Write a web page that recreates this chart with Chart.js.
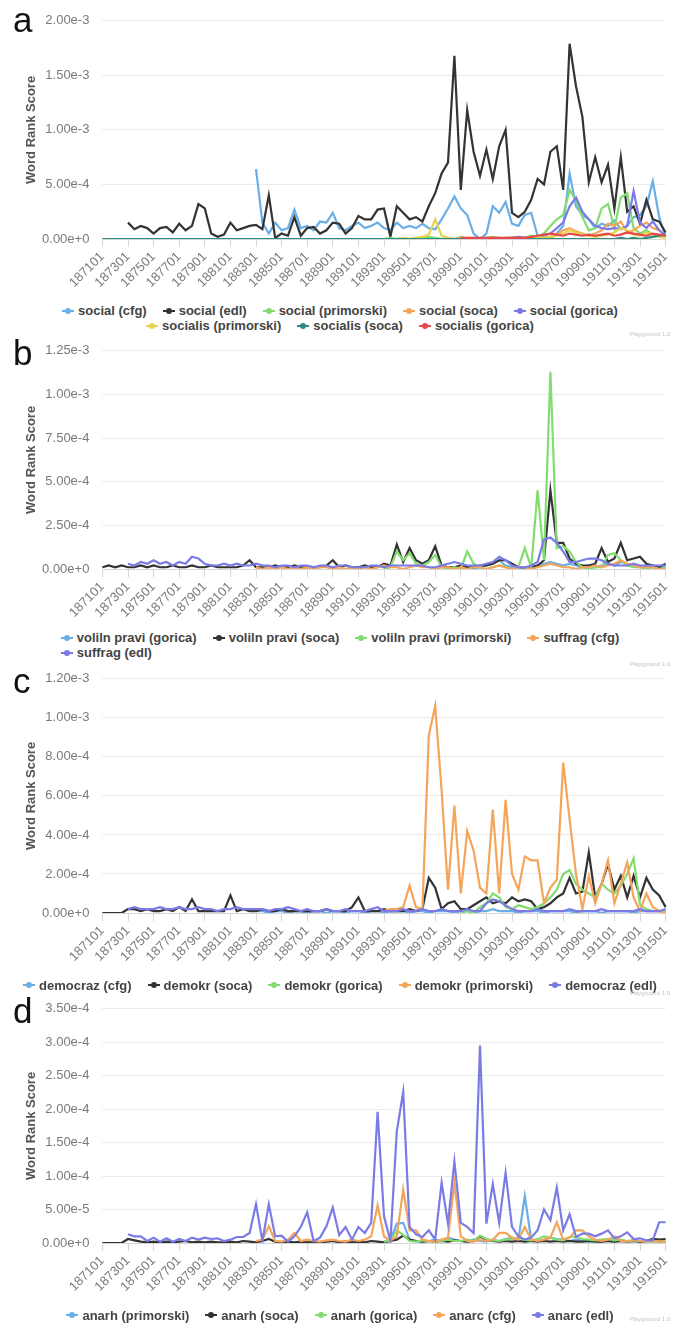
<!DOCTYPE html>
<html>
<head>
<meta charset="utf-8">
<script src="https://cdn.jsdelivr.net/npm/chart.js@4.4.0/dist/chart.umd.min.js"></script>
<style>
  body { margin: 0; background: #fff; font-family: "Liberation Sans", Arial, sans-serif; }
  #page { position: relative; width: 680px; height: 1325px; overflow: hidden; }
  .panel { position: absolute; left: 0; }
  .letter { position: absolute; left: 13px; font-size: 35px; line-height: 34px; color: #111; }
  .legend { position: absolute; left: 0; width: 680px; text-align: center; font-size: 13px; font-weight: bold; color: #444; }
  .wrap { display: inline-block; }
  .row { display: flex; justify-content: center; height: 15px; line-height: 15px; align-items: center; }
  .wrap.start .row { justify-content: flex-start; }
  .item { display: inline-flex; align-items: center; margin: 0 8px; white-space: nowrap; }
  .mark { position: relative; display: inline-block; width: 12px; height: 2px; margin-right: 4px; }
  .mark::after { content: ''; position: absolute; left: 3px; top: -2px; width: 6px; height: 6px; border-radius: 50%; background: inherit; }
  .credit { position: absolute; right: 10px; font-size: 6px; color: #c4c4c4; }
</style>
</head>
<body>
<div id="page"></div>
<script>
const _ = null;
const UNIT = 1e-5; // all series below are written in units of 1e-5

// half-year periods 187101, 187107 ... 191501
const periods = [];
for (let y = 1871; y <= 1915; y++) {
    periods.push(y + '01');
    if (y < 1915) periods.push(y + '07');
}

// ---- a: social ----
const aSocialCfg = [
    _,_,_,_,_,_,_,_,
    _,_,_,_,_,_,_,_,
    _,_,_,_,_,_,_,_,
    64,15,5,15,8,10,27,10,
    12,8,16,15,24,10,8,12,
    15,10,12,15,10,8,15,10,
    12,10,14,10,9,18,28,39,
    28,22,5,0,5,30,24,34,
    14,12,22,24,3,0,0,5,
    12,60,30,22,18,10,14,12,
    17,9,12,20,22,30,53,20,
    2];
const aSocialEdl = [
    _,_,_,_,15,9,12,10,
    5,10,11,6,14,8,12,32,
    28,5,2,4,15,8,10,12,
    13,9,40,1,5,3,20,3,
    10,11,5,8,15,14,5,10,
    21,18,18,27,28,2,30,24,
    18,20,16,30,42,60,70,168,
    45,118,80,58,82,55,85,100,
    24,20,25,36,55,50,80,85,
    45,179,140,112,52,75,52,68,
    28,75,25,30,14,36,18,16,
    6];
const aSocialPrimorski = [
    _,_,_,_,_,_,_,_,
    _,_,_,_,_,_,_,_,
    _,_,_,_,_,_,_,_,
    _,_,_,_,_,_,_,_,
    _,_,_,_,_,_,_,_,
    _,_,_,_,0,1,0,1,
    0,1,0,2,1,0,1,0,
    2,0,1,0,1,2,1,0,
    1,2,1,3,2,5,12,18,
    22,45,35,20,8,10,28,32,
    10,38,42,10,5,8,4,3,
    2];
const aSocialSoca = [
    0,0,0,0,0,0,0,0,
    0,0,0,0,0,0,0,0,
    0,0,0,0,0,0,0,0,
    0,0,0,0,0,0,0,0,
    0,0,0,0,0,0,0,0,
    0,0,0,0,0,0,0,0,
    0,0,0,0,0,0,0,0,
    1,0,1,0,1,1,0,1,
    1,0,1,1,0,1,2,4,
    8,10,7,5,3,5,8,14,
    12,16,6,8,12,15,10,8,
    3];
const aSocialGorica = [
    _,_,_,_,_,_,_,_,
    _,_,_,_,_,_,_,_,
    _,_,_,_,_,_,_,_,
    _,_,_,_,_,_,_,_,
    _,_,_,_,_,_,_,_,
    _,_,_,_,_,_,_,_,
    _,_,_,_,_,_,_,_,
    0,1,0,1,0,1,0,1,
    1,2,1,1,2,3,5,10,
    15,30,38,25,18,12,10,9,
    10,9,12,44,15,10,16,8,
    3];
const aSocialisPrimorski = [
    _,_,_,_,_,_,_,_,
    _,_,_,_,_,_,_,_,
    _,_,_,_,_,_,_,_,
    _,_,_,_,_,_,_,_,
    _,_,_,_,_,_,_,_,
    _,_,_,_,0,0,0,1,
    0,1,2,4,18,3,1,0,
    0,1,0,0,1,0,1,0,
    0,1,0,1,2,1,2,3,
    5,8,6,4,3,2,3,4,
    6,10,8,4,3,6,4,2,
    1];
const aSocialisSoca = [
    0,0,0,0,0,0,0,0,
    0,0,0,0,0,0,0,0,
    0,0,0,0,0,0,0,0,
    0,0,0,0,0,0,0,0,
    0,0,0,0,0,0,0,0,
    0,0,0,0,0,0,0,0,
    0,0,0,0,0,0,0,0,
    0,0,0,0,0,0,0,0,
    0,0,0,0,0,0,0,0,
    0,0,0,0,0,0,0,0,
    0,1,0,1,0,1,2,3,
    4];
const aSocialisGorica = [
    _,_,_,_,_,_,_,_,
    _,_,_,_,_,_,_,_,
    _,_,_,_,_,_,_,_,
    _,_,_,_,_,_,_,_,
    _,_,_,_,_,_,_,_,
    _,_,_,_,_,_,_,_,
    _,_,_,_,_,_,_,_,
    1,1,1,1,1,1,1,1,
    1,1,1,2,3,4,5,4,
    3,5,4,3,4,3,4,5,
    3,4,6,5,4,3,5,4,
    3];

// ---- b: voliln pravi / suffrag ----
const bVolilnGorica = [
    _,_,_,_,_,_,_,_,
    _,_,_,_,_,_,_,_,
    _,_,_,_,_,_,_,_,
    _,_,_,_,_,_,_,_,
    _,_,_,_,_,_,_,_,
    _,_,_,_,_,_,_,_,
    _,_,_,_,_,_,_,_,
    0,1,0,1,2,3,5,2,
    1,1,0,1,2,3,4,3,
    2,3,2,1,2,1,2,3,
    2,4,3,2,1,2,1,1,
    1];
const bVolilnSoca = [
    1,2,1,2,1,1,2,1,
    2,1,1,2,1,1,2,1,
    1,2,1,1,1,1,2,5,
    1,1,1,2,1,1,2,1,
    1,1,1,2,5,1,2,1,
    1,2,1,1,3,2,14,4,
    12,5,3,5,13,2,1,1,
    2,1,1,2,2,3,5,5,
    3,1,1,1,2,5,45,15,
    15,6,3,2,2,3,12,4,
    6,15,5,6,7,3,2,1,
    3];
const bVolilnPrimorski = [
    _,_,_,_,_,_,_,_,
    _,_,_,_,_,_,_,_,
    _,_,_,_,_,_,_,_,
    _,_,_,_,_,_,_,_,
    _,_,_,_,_,_,_,_,
    _,_,_,_,0,1,10,5,
    9,3,2,4,8,1,0,1,
    0,10,3,1,0,1,2,1,
    0,1,12,1,45,5,113,12,
    13,10,4,1,0,1,1,8,
    9,5,2,1,1,0,1,0,
    1];
const bSuffragCfg = [
    _,_,_,_,_,_,_,_,
    _,_,_,_,_,_,_,_,
    _,_,_,_,_,_,_,_,
    1,0,1,0,1,0,1,0,
    1,0,1,1,0,1,0,1,
    0,1,0,1,2,1,1,0,
    1,2,1,1,0,1,1,0,
    1,0,1,1,0,1,2,1,
    0,1,1,0,1,2,3,2,
    1,1,0,1,1,2,1,2,
    3,5,3,2,1,1,1,0,
    0];
const bSuffragEdl = [
    _,_,_,_,3,2,4,3,
    5,3,4,2,4,3,7,6,
    3,2,2,3,2,3,2,2,
    3,2,2,1,2,2,1,2,
    2,1,2,2,1,2,2,1,
    1,1,2,2,1,2,2,2,
    2,2,2,1,1,2,3,4,
    3,2,2,2,3,4,7,5,
    2,1,1,2,4,17,18,15,
    10,4,4,5,6,6,5,3,
    2,2,2,3,2,2,2,2,
    2];

// ---- c: democraz / demokr ----
const cDemocrazCfg = [
    _,_,_,_,_,_,_,_,
    _,_,_,_,_,_,_,_,
    _,_,_,_,_,_,_,_,
    1,1,0,1,1,0,1,1,
    0,1,1,0,1,1,0,1,
    1,0,1,1,0,1,1,1,
    0,1,1,0,1,1,1,0,
    1,1,0,1,1,2,1,1,
    1,0,1,1,1,0,1,1,
    1,1,0,1,1,1,0,1,
    1,1,1,0,1,1,1,1,
    1];
const cDemokrSoca = [
    0,0,0,0,2,2,1,2,
    1,1,2,1,3,1,7,1,
    1,1,1,1,9,1,2,1,
    1,2,1,1,2,1,1,1,
    1,1,1,2,1,1,1,3,
    8,1,1,1,2,1,1,1,
    2,1,2,18,13,2,5,6,
    2,2,4,6,8,5,6,5,
    8,6,7,6,2,3,5,8,
    10,18,10,11,31,8,15,25,
    12,19,8,19,8,18,12,9,
    3];
const cDemokrGorica = [
    _,_,_,_,_,_,_,_,
    _,_,_,_,_,_,_,_,
    _,_,_,_,_,_,_,_,
    _,_,_,_,_,_,_,_,
    _,_,_,_,_,_,_,_,
    _,_,_,_,_,_,_,_,
    _,_,_,_,_,_,_,_,
    0,1,0,3,5,10,8,3,
    2,4,3,2,3,5,8,12,
    20,22,15,12,10,8,15,12,
    10,14,20,28,4,2,1,1,
    1];
const cDemokrPrimorski = [
    _,_,_,_,_,_,_,_,
    _,_,_,_,_,_,_,_,
    _,_,_,_,_,_,_,_,
    _,_,_,_,_,_,_,_,
    _,_,_,_,_,_,_,_,
    _,_,_,_,1,2,2,3,
    14,3,2,91,106,63,12,55,
    10,42,32,13,10,53,10,58,
    20,12,29,27,27,5,13,17,
    77,48,20,2,19,5,15,27,
    5,15,26,8,1,10,3,1,
    0];
const cDemocrazEdl = [
    _,_,_,_,2,3,2,2,
    2,3,2,2,3,2,2,3,
    2,2,1,2,2,3,2,2,
    2,2,1,2,2,3,2,1,
    2,1,1,2,1,1,2,1,
    1,1,2,3,1,1,1,2,
    1,1,2,1,1,2,1,1,
    1,2,1,1,5,7,6,4,
    2,1,1,1,2,1,1,1,
    1,2,1,1,1,1,2,1,
    1,1,1,1,2,1,1,1,
    2];

// ---- d: anarh / anarc ----
const dAnarhPrimorski = [
    _,_,_,_,_,_,_,_,
    _,_,_,_,_,_,_,_,
    _,_,_,_,_,_,_,_,
    _,_,_,_,_,_,_,_,
    _,_,_,_,_,_,_,_,
    _,_,_,_,0.2,0.5,2.9,3.0,
    0.5,0.3,0.2,0.3,0.5,0.3,0.8,0.5,
    0.3,0.2,0.5,0.3,0.2,0.5,0.3,0.6,
    0.8,0.5,7.0,0.5,0.3,0.5,0.8,0.6,
    0.5,0.3,0.5,0.3,0.2,0.3,0.2,0.3,
    0.2,0.3,0.2,0.3,0.2,0.2,0.3,0.2,
    0.2];
const dAnarhSoca = [
    0,0,0,0,0.6,0.4,0.2,0.1,
    0.2,0.1,0.2,0.1,0.2,0.3,0.1,0.2,
    0.1,0.2,0.1,0.1,0.2,0.1,0.3,0.2,
    0.1,0.3,0.6,0.2,0.1,0.2,0.1,0.2,
    0.1,0.2,0.1,0.2,0.3,0.1,0.2,0.1,
    0.2,0.1,0.3,0.2,0.1,0.3,0.5,1.1,
    0.5,0.3,0.2,0.3,0.2,0.3,0.2,0.4,
    0.3,0.2,0.3,1.0,0.5,0.3,0.2,0.3,
    0.2,0.3,0.2,0.3,0.2,0.3,0.2,0.3,
    0.2,0.3,0.2,0.2,0.3,0.2,0.2,0.3,
    0.2,0.3,0.2,0.3,0.2,0.3,0.6,0.5,
    0.6];
const dAnarhGorica = [
    _,_,_,_,_,_,_,_,
    _,_,_,_,_,_,_,_,
    _,_,_,_,_,_,_,_,
    _,_,_,_,_,_,_,_,
    _,_,_,_,_,_,_,_,
    _,_,_,_,0.2,0.4,1.9,1.2,
    0.3,0.2,0.4,0.3,0.2,0.3,0.5,0.3,
    0.3,0.5,0.3,1.1,0.6,0.4,0.3,0.5,
    0.6,0.8,0.5,0.4,0.6,1.0,0.8,0.5,
    0.4,0.9,0.9,0.6,0.5,0.4,0.5,0.6,
    0.4,0.5,0.3,0.4,0.3,0.3,0.2,0.2,
    0.2];
const dAnarcCfg = [
    _,_,_,_,_,_,_,_,
    _,_,_,_,_,_,_,_,
    _,_,_,_,_,_,_,_,
    0.3,0.5,2.5,0.3,0.2,0.5,1.5,0.3,
    0.5,0.3,0.2,0.4,0.5,0.3,0.2,0.5,
    0.3,0.5,1.0,5.6,1.0,0.3,1.0,8.0,
    1.9,1.9,0.5,0.3,0.2,0.5,0.8,9.0,
    1.0,0.3,0.2,0.5,0.3,0.5,1.5,1.5,
    0.8,0.5,2.4,0.5,0.3,0.5,0.8,3.1,
    0.5,0.8,1.9,1.9,1.0,0.5,0.3,0.5,
    1.0,0.3,0.2,0.5,0.3,0.2,0.3,0.2,
    0.2];
const dAnarcEdl = [
    _,_,_,_,1.3,1.0,1.0,0.3,
    0.8,0.2,0.7,0.2,0.6,0.3,0.8,0.5,
    0.8,0.6,0.7,0.3,0.5,0.9,0.9,1.5,
    5.8,0.3,5.8,1.0,1.1,0.2,1.0,2.4,
    4.6,0.3,0.8,2.5,5.3,1.2,2.4,0.5,
    2.4,1.5,3.0,19.6,4.0,0.3,16.7,22.6,
    2.4,1.3,0.9,1.9,0.5,9.0,2.9,12.2,
    3.0,2.4,1.5,29.5,2.9,8.8,3.0,10.5,
    2.4,1.0,0.5,0.8,1.9,5.0,3.4,8.3,
    1.9,4.3,0.9,1.4,1.4,1.0,1.4,1.9,
    0.7,1.0,1.6,0.6,0.7,0.4,0.4,3.1,
    3.1];

const COLORS = {
    blue: '#6aaee8', black: '#333333', green: '#82dc70', orange: '#f5a55a',
    purple: '#7b7be8', yellow: '#e5d54b', teal: '#2e8b80', red: '#e8484a'
};

Chart.defaults.font.family = "'Liberation Sans', Arial, sans-serif";

const panels = [
    {
        letter: 'a', top: 0, height: 300, plotH: 221, yMax: 2e-3, yStep: 5e-4,
        legendTop: 303, legendRows: [[0, 1, 2, 3, 4], [5, 6, 7]], legendStart: false, creditTop: 331,
        series: [
            { name: 'social (cfg)', color: COLORS.blue, values: aSocialCfg },
            { name: 'social (edl)', color: COLORS.black, values: aSocialEdl },
            { name: 'social (primorski)', color: COLORS.green, values: aSocialPrimorski },
            { name: 'social (soca)', color: COLORS.orange, values: aSocialSoca },
            { name: 'social (gorica)', color: COLORS.purple, values: aSocialGorica },
            { name: 'socialis (primorski)', color: COLORS.yellow, values: aSocialisPrimorski },
            { name: 'socialis (soca)', color: COLORS.teal, values: aSocialisSoca },
            { name: 'socialis (gorica)', color: COLORS.red, values: aSocialisGorica }
        ]
    },
    {
        letter: 'b', top: 330, height: 300, plotH: 221, yMax: 1.25e-3, yStep: 2.5e-4,
        legendTop: 630, legendRows: [[0, 1, 2, 3], [4]], legendStart: true, creditTop: 661,
        series: [
            { name: 'voliln pravi (gorica)', color: COLORS.blue, values: bVolilnGorica },
            { name: 'voliln pravi (soca)', color: COLORS.black, values: bVolilnSoca },
            { name: 'voliln pravi (primorski)', color: COLORS.green, values: bVolilnPrimorski },
            { name: 'suffrag (cfg)', color: COLORS.orange, values: bSuffragCfg },
            { name: 'suffrag (edl)', color: COLORS.purple, values: bSuffragEdl }
        ]
    },
    {
        letter: 'c', top: 658, height: 318, plotH: 237, yMax: 1.2e-3, yStep: 2e-4,
        legendTop: 974, legendRows: [[0, 1, 2, 3, 4]], legendStart: false, creditTop: 990,
        series: [
            { name: 'democraz (cfg)', color: COLORS.blue, values: cDemocrazCfg },
            { name: 'demokr (soca)', color: COLORS.black, values: cDemokrSoca },
            { name: 'demokr (gorica)', color: COLORS.green, values: cDemokrGorica },
            { name: 'demokr (primorski)', color: COLORS.orange, values: cDemokrPrimorski },
            { name: 'democraz (edl)', color: COLORS.purple, values: cDemocrazEdl }
        ]
    },
    {
        letter: 'd', top: 988, height: 318, plotH: 237, yMax: 3.5e-4, yStep: 5e-5,
        legendTop: 1304, legendRows: [[0, 1, 2, 3, 4]], legendStart: false, creditTop: 1316,
        series: [
            { name: 'anarh (primorski)', color: COLORS.blue, values: dAnarhPrimorski },
            { name: 'anarh (soca)', color: COLORS.black, values: dAnarhSoca },
            { name: 'anarh (gorica)', color: COLORS.green, values: dAnarhGorica },
            { name: 'anarc (cfg)', color: COLORS.orange, values: dAnarcCfg },
            { name: 'anarc (edl)', color: COLORS.purple, values: dAnarcEdl }
        ]
    }
];

const page = document.getElementById('page');

function buildChart(p) {
    const holder = document.createElement('div');
    holder.className = 'panel';
    holder.style.top = p.top + 'px';
    const canvas = document.createElement('canvas');
    canvas.width = 680;
    canvas.height = p.height;
    holder.appendChild(canvas);
    page.appendChild(holder);

    const xAxisH = p.height - 18 - p.plotH;

    new Chart(canvas.getContext('2d'), {
        type: 'line',
        data: {
            labels: periods,
            datasets: p.series.map((s, k) => ({
                label: s.name,
                data: s.values.map(v => v === null ? null : v * UNIT),
                borderColor: s.color,
                backgroundColor: s.color,
                borderWidth: 2.2,
                pointRadius: 0,
                tension: 0,
                order: -k
            }))
        },
        options: {
            responsive: false,
            animation: false,
            events: [],
            layout: { padding: { top: 18, right: 14.4, left: 0, bottom: 0 } },
            plugins: { legend: { display: false }, tooltip: { enabled: false } },
            scales: {
                x: {
                    grid: { drawOnChartArea: false, color: '#d6d6d6', tickLength: 8 },
                    border: { color: '#d6d6d6' },
                    ticks: {
                        autoSkip: false, minRotation: 45, maxRotation: 45, padding: 2,
                        color: '#7a7a7a', font: { size: 13 },
                        callback: (v, i) => (i % 4 === 0 ? periods[i] : null)
                    },
                    afterFit: s => { s.height = xAxisH; }
                },
                y: {
                    min: 0,
                    max: p.yMax,
                    grid: { color: '#ebebeb', drawTicks: false },
                    border: { display: false },
                    ticks: {
                        stepSize: p.yStep, padding: 13, color: '#7a7a7a', font: { size: 13 },
                        callback: v => Number(v).toExponential(2)
                    },
                    title: {
                        display: true, text: 'Word Rank Score', color: '#555',
                        font: { size: 13, weight: 'bold' }, padding: { top: 24, bottom: 0 }
                    },
                    afterFit: s => { s.width = 102.4; }
                }
            }
        }
    });
}

function buildLegend(p) {
    const box = document.createElement('div');
    box.className = 'legend';
    box.style.top = p.legendTop + 'px';
    const wrap = document.createElement('div');
    wrap.className = p.legendStart ? 'wrap start' : 'wrap';
    p.legendRows.forEach(row => {
        const r = document.createElement('div');
        r.className = 'row';
        row.forEach(k => {
            const s = p.series[k];
            const item = document.createElement('span');
            item.className = 'item';
            item.innerHTML = '<span class="mark" style="background:' + s.color + '"></span>' + s.name;
            r.appendChild(item);
        });
        wrap.appendChild(r);
    });
    box.appendChild(wrap);
    page.appendChild(box);
}

function buildLabels(p) {
    const letter = document.createElement('div');
    letter.className = 'letter';
    letter.style.top = (p.top + (p.letter === 'a' ? 3 : 6)) + 'px';
    letter.textContent = p.letter;
    page.appendChild(letter);

    const credit = document.createElement('div');
    credit.className = 'credit';
    credit.style.top = p.creditTop + 'px';
    credit.textContent = 'Playground 1.0';
    page.appendChild(credit);
}

panels.forEach(p => {
    buildChart(p);
    buildLegend(p);
    buildLabels(p);
});
</script>
</body>
</html>
